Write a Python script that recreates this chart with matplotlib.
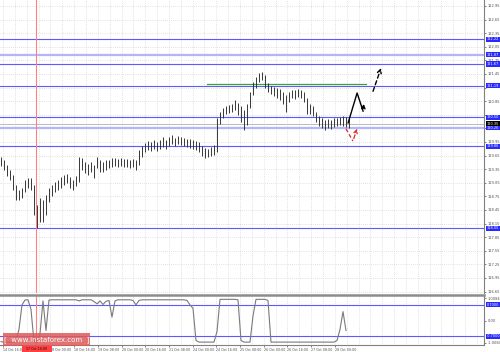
import numpy as np
import matplotlib
matplotlib.use("Agg")
import matplotlib.pyplot as plt
from matplotlib.patches import Rectangle
from matplotlib.lines import Line2D
from matplotlib.transforms import blended_transform_factory

# H1 bars (one kept of every two), prices
bar_high = [119.62, 119.55, 119.44, 119.33, 119.22, 119.00, 118.89, 118.93, 119.11, 119.16,
            119.16, 119.00, 118.56, 118.71, 118.67, 118.78, 118.93, 119.00, 119.07, 119.11,
            119.18, 119.22, 119.24, 119.18, 119.11, 119.20, 119.62, 119.60, 119.51, 119.46,
            119.51, 119.44, 119.62, 119.55, 119.51, 119.55, 119.55, 119.60, 119.60, 119.57,
            119.60, 119.57, 119.57, 119.55, 119.57, 119.55, 119.77, 119.86, 119.93, 119.97,
            119.95, 119.99, 119.95, 119.99, 120.06, 119.99, 120.06, 120.10, 120.04, 120.08,
            120.06, 120.04, 120.02, 120.02, 119.99, 119.97, 119.95, 119.86, 119.82, 119.80,
            119.84, 119.88, 120.48, 120.61, 120.70, 120.74, 120.77, 120.79, 120.88, 120.81,
            120.74, 120.66, 120.79, 121.05, 121.27, 121.38, 121.47, 121.49, 121.43, 121.25,
            121.18, 121.16, 121.14, 121.12, 121.05, 120.99, 121.05, 121.10, 121.10, 121.12,
            121.10, 121.05, 120.92, 120.79, 120.74, 120.61, 120.52, 120.48, 120.43, 120.46,
            120.43, 120.48, 120.48, 120.50, 120.52, 120.50, 120.48]
bar_low = [119.42, 119.33, 119.20, 119.11, 118.89, 118.67, 118.67, 118.71, 118.85, 118.93,
           118.89, 118.34, 118.05, 118.18, 118.18, 118.34, 118.63, 118.76, 118.85, 118.89,
           118.93, 119.00, 119.05, 118.93, 118.89, 118.98, 119.07, 119.33, 119.27, 119.22,
           119.29, 119.16, 119.38, 119.29, 119.29, 119.33, 119.38, 119.40, 119.42, 119.40,
           119.42, 119.40, 119.40, 119.38, 119.40, 119.33, 119.44, 119.62, 119.73, 119.77,
           119.75, 119.80, 119.75, 119.80, 119.84, 119.80, 119.86, 119.90, 119.86, 119.90,
           119.88, 119.86, 119.84, 119.82, 119.80, 119.77, 119.73, 119.64, 119.60, 119.62,
           119.64, 119.66, 119.73, 120.35, 120.48, 120.57, 120.59, 120.61, 120.66, 120.55,
           120.39, 120.21, 120.32, 120.70, 120.99, 121.14, 121.27, 121.32, 121.14, 121.05,
           121.01, 120.96, 120.92, 120.88, 120.79, 120.61, 120.83, 120.92, 120.90, 120.94,
           120.92, 120.83, 120.57, 120.57, 120.52, 120.39, 120.30, 120.26, 120.21, 120.26,
           120.24, 120.28, 120.30, 120.32, 120.30, 120.28, 120.26]

# oscillator in the lower window
osc_values = [-0.95, -0.97, -0.97, -0.98, -0.97, -0.90, -0.40, 0.70, 0.92, 0.93,
              0.50, -0.95, -0.98, -0.60, 0.88, -0.45, 0.92, 0.93, 0.93, 0.93,
              0.93, 0.93, 0.93, 0.93, 0.93, 0.93, 0.88, 0.93, 0.93, 0.93,
              0.93, 0.85, 0.75, 0.88, 0.72, 0.86, 0.90, 0.15, 0.88, 0.93,
              0.93, 0.93, 0.93, 0.93, 0.90, 0.70, 0.90, 0.93, 0.93, 0.93,
              0.93, 0.93, 0.93, 0.93, 0.93, 0.93, 0.93, 0.93, 0.93, 0.93,
              0.93, 0.93, 0.90, 0.70, 0.55, -0.90, -0.97, -0.97, -0.97, -0.97,
              -0.97, -0.97, -0.50, 0.95, 0.95, 0.95, 0.95, 0.95, 0.95, 0.93,
              -0.90, -0.97, -0.97, -0.97, 0.20, 0.95, 0.95, 0.95, 0.95, 0.90,
              -0.97, -0.97, -0.97, -0.97, -0.97, -0.97, -0.97, -0.97, -0.97, -0.97,
              -0.97, -0.97, -0.97, -0.97, -0.97, -0.97, -0.97, -0.97, -0.97, -0.97,
              -0.97, -0.97, -0.90, -0.40, 0.40, -0.45]

# "17 Oct 08:00" sits under the red date box, as on the original
time_labels = ["14 Oct 16:00", "", "18 Oct 00:00", "18 Oct 16:00",
               "19 Oct 08:00", "20 Oct 00:00", "20 Oct 16:00", "21 Oct 08:00",
               "24 Oct 00:00", "24 Oct 16:00", "25 Oct 08:00", "26 Oct 00:00",
               "26 Oct 16:00", "27 Oct 08:00", "28 Oct 00:00"]
price_ticks = [116.65, 116.95, 117.25, 117.55, 117.85, 118.15, 118.45, 118.75,
               119.05, 119.35, 119.65, 119.95, 120.25, 120.55, 120.85, 121.15,
               121.45, 121.75, 122.05, 122.35, 122.65, 122.95]

level_prices = [122.22, 121.67, 121.19, 120.50, 119.86, 118.05]
light_levels = [121.87, 120.26]
resistance_price = 121.22
resistance_from, resistance_to = 68.7, 121.7
current_price = 120.35
osc_levels = [0.70, -0.70]
osc_ticks = [1.0084, 0.0, -1.0084]
osc_tick_labels = ["1.0084", "0.00", "-1.0084"]
marker_bar = 11.67
marker_label = "17 Oct 14:00"

# forecast sketches drawn on the chart
up_path_x = [115.7, 118.7, 120.7, 121.0]
up_path_y = [120.37, 121.03, 120.63, 120.85]
up_dash_x = [123.7, 127.0]
up_dash_y = [121.01, 121.64]
down_path_x = [115.0, 117.3, 119.0]
down_path_y = [120.24, 119.97, 120.30]

W, H = 500, 352
fig = plt.figure(figsize=(W / 100, H / 100), dpi=100)
fig.patch.set_facecolor("white")
ax = fig.add_axes([0, 1 - 293 / H, 484 / W, 293 / H])
ax2 = fig.add_axes([0, 1 - 345 / H, 484 / W, 49 / H])

blue = "#5a5aff"
light_blue = "#b4b4ff"
grid_kw = dict(color="#c8c8c8", lw=0.5, linestyle=(0, (1, 2)), zorder=0)
x_max = 161.0
vgrid = np.arange(0.67, x_max, 3.95)
label_pos = 0.67 + 7.9 * np.arange(len(time_labels))

# price window
idx = np.arange(len(bar_high))
for p in price_ticks:
    ax.axhline(p, **grid_kw)
for g in vgrid:
    ax.axvline(g, **grid_kw)
for p in light_levels:
    ax.axhline(p, color=light_blue, lw=1.6, zorder=1)
for p in level_prices:
    ax.axhline(p, color=blue, lw=0.8, zorder=1)
ax.axhline(current_price, color="#b0b0b0", lw=0.6, zorder=1)
ax.plot([resistance_from, resistance_to], [resistance_price, resistance_price],
        color="#3ca03c", lw=0.9, zorder=2)
ax.axvline(marker_bar, color="#ff8080", lw=0.8, zorder=2)
ax.vlines(idx, bar_low, bar_high, color="#2a2a2a", lw=0.65, zorder=3)

ax.plot(up_path_x[:-1], up_path_y[:-1], color="black", lw=1.0, zorder=4)
ax.annotate("", xy=(up_path_x[-1], up_path_y[-1]), xytext=(up_path_x[-2], up_path_y[-2]),
            arrowprops=dict(arrowstyle="->", color="black", lw=1.0, mutation_scale=6))
ax.annotate("", xy=(up_dash_x[1], up_dash_y[1]), xytext=(up_dash_x[0], up_dash_y[0]),
            arrowprops=dict(arrowstyle="->", color="black", lw=1.0, linestyle=(0, (3, 2)),
                            mutation_scale=7))
ax.plot(down_path_x[:-1], down_path_y[:-1], color="#e02020", lw=0.9,
        linestyle=(0, (3, 2)), zorder=4)
ax.annotate("", xy=(down_path_x[-1], down_path_y[-1]), xytext=(down_path_x[-2], down_path_y[-2]),
            arrowprops=dict(arrowstyle="->", color="#e02020", lw=0.9, linestyle=(0, (3, 2)),
                            mutation_scale=6))

ax.set_xlim(-0.33, x_max)
ax.set_ylim(116.618, 123.082)
ax.yaxis.tick_right()
ax.set_yticks(price_ticks)
# tick labels sitting under a level box are hidden, like on the terminal
boxed = level_prices + light_levels + [current_price]
ax.set_yticklabels(["" if min(abs(p - b) for b in boxed) < 0.07 else f"{p:.2f}"
                    for p in price_ticks])
ax.tick_params(axis="y", labelsize=2.6, colors="#505050", length=1.5, width=0.5, pad=1)
ax.set_xticks([])
for s in ["left", "top", "bottom"]:
    ax.spines[s].set_visible(False)
ax.spines["right"].set_color("#808080")
ax.spines["right"].set_linewidth(0.8)

tr = blended_transform_factory(ax.transAxes, ax.transData)
box_kw = dict(boxstyle="square,pad=0.15", ec="none")
for p in level_prices + light_levels:
    ax.text(1.006, p, f"{p:.2f}", transform=tr, ha="left", va="center", fontsize=2.5,
            color="white", bbox=dict(fc="#2a2aff", **box_kw), zorder=6)
ax.text(1.006, current_price, f"{current_price:.2f}", transform=tr, ha="left", va="center",
        fontsize=2.5, color="white", bbox=dict(fc="black", **box_kw), zorder=7)

# oscillator window
for g in vgrid:
    ax2.axvline(g, **grid_kw)
for lv in osc_levels:
    ax2.axhline(lv, color=blue, lw=0.8, zorder=1)
ax2.axvline(marker_bar, color="#ff8080", lw=0.8, zorder=2)
ax2.plot(np.arange(len(osc_values)), osc_values, color="#7a7a7a", lw=0.8, zorder=3)
ax2.set_xlim(-0.33, x_max)
ax2.set_ylim(-1.1, 1.1)
ax2.yaxis.tick_right()
ax2.set_yticks(osc_ticks)
ax2.set_yticklabels(osc_tick_labels)
ax2.tick_params(axis="y", labelsize=2.6, colors="#505050", length=1.5, width=0.5, pad=1)
ax2.set_xticks(label_pos)
ax2.set_xticklabels(time_labels)
ax2.tick_params(axis="x", labelsize=2.3, colors="#505050", length=1.5, width=0.5, pad=1)
for t in ax2.get_xticklabels():
    t.set_ha("left")
ax2.spines["left"].set_visible(False)
ax2.spines["top"].set_visible(False)
for s in ["right", "bottom"]:
    ax2.spines[s].set_color("#808080")
    ax2.spines[s].set_linewidth(0.8)
tr2 = blended_transform_factory(ax2.transAxes, ax2.transData)
for lv in osc_levels:
    ax2.text(1.006, lv, f"{lv:.4f}", transform=tr2, ha="left", va="center", fontsize=2.5,
             color="white", bbox=dict(fc="#2a2aff", **box_kw), zorder=6)

# window separator
fig.add_artist(Line2D([0, 484 / W], [1 - 294.5 / H, 1 - 294.5 / H], color="#8c8c8c", lw=1.8))

# date box under the red marker line
fig.add_artist(Rectangle((22 / W, 0), 30 / W, 7 / H, fc="#ff4040", ec="none"))
fig.text(37 / W, 3.5 / H, marker_label, ha="center", va="center", fontsize=2.3, color="#300000")

# watermark
fig.add_artist(Rectangle((3 / W, 1 - 346 / H), 87 / W, 13 / H, fc="#dc5a5a", ec="none", alpha=0.85))
fig.text(46.5 / W, 1 - 339.5 / H, "[  www.instaforex.com  ]", ha="center", va="center",
         fontsize=5, color="white")

fig.savefig("out.png", dpi=100)
